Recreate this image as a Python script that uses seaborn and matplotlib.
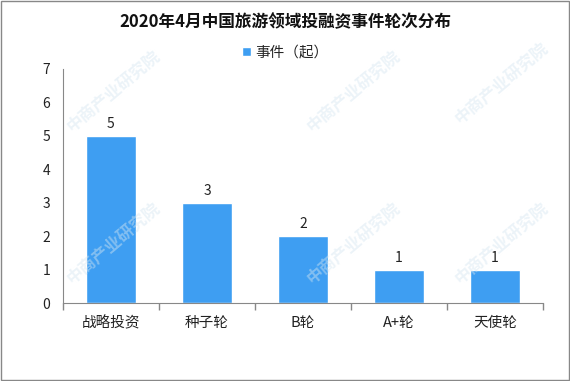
import matplotlib
matplotlib.use("Agg")
import matplotlib.pyplot as plt
import seaborn as sns
import numpy as np
import pandas as pd

sns.set_theme(style="white")
plt.rcParams['font.family'] = ['Noto Sans CJK SC', 'DejaVu Sans']

rounds = ['战略投资', '种子轮', 'B轮', 'A+轮', '天使轮']
events = [5, 3, 2, 1, 1]
yticks = [0, 1, 2, 3, 4, 5, 6, 7]
title = '2020年4月中国旅游领域投融资事件轮次分布'
series_name = '事件（起）'

df = pd.DataFrame({'round': rounds, 'events': events})

fig = plt.figure(figsize=(5.7, 3.81), dpi=100)
ax = fig.add_axes([0.1105, 0.2047, 0.842, 0.6143])

sns.barplot(data=df, x='round', y='events', color='#3e9ef2', width=0.52,
            saturation=1, ax=ax, label=series_name)

for i, v in enumerate(events):
    ax.text(i, v + 0.15, str(v), ha='center', va='bottom', fontsize=10, color='#222222')

ax.set_xlim(-0.5, len(rounds) - 0.5)
ax.set_ylim(0, 7)
ax.set_yticks(yticks)
ax.set_xlabel('')
ax.set_ylabel('')
ax.tick_params(axis='y', length=4, color='#888888', labelsize=10, labelcolor='#222222', pad=5)
ax.tick_params(axis='x', length=0, labelsize=10.5, labelcolor='#222222', pad=9)
ax.set_xticks(np.arange(-0.5, len(rounds)), minor=True)
ax.tick_params(axis='x', which='minor', length=5, color='#888888', direction='out', bottom=True)
for s in ['top', 'right']:
    ax.spines[s].set_visible(False)
for s in ['left', 'bottom']:
    ax.spines[s].set_color('#888888')
    ax.spines[s].set_linewidth(0.8)

fig.text(0.5, 0.942, title, ha='center', va='center', fontsize=12, fontweight='bold', color='#111111')
ax.legend(loc='center', bbox_to_anchor=(0.5, 0.862), bbox_transform=fig.transFigure,
          frameon=False, fontsize=10.5, handlelength=0.6, handleheight=0.6, handletextpad=0.3)

# 水印
for (x, y) in [(0.2, 0.76), (0.62, 0.76), (0.2, 0.36), (0.62, 0.36), (0.88, 0.36), (0.88, 0.78)]:
    fig.text(x, y, '中商产业研究院', rotation=40, fontsize=12, color='#d5e6f1',
             alpha=0.45, ha='center', va='center', fontweight='bold', zorder=0)

fig.patches.append(plt.Rectangle((0.002, 0.003), 0.996, 0.994, transform=fig.transFigure,
                                 fill=False, edgecolor='#888888', linewidth=1))

fig.savefig('out.png', dpi=100)
